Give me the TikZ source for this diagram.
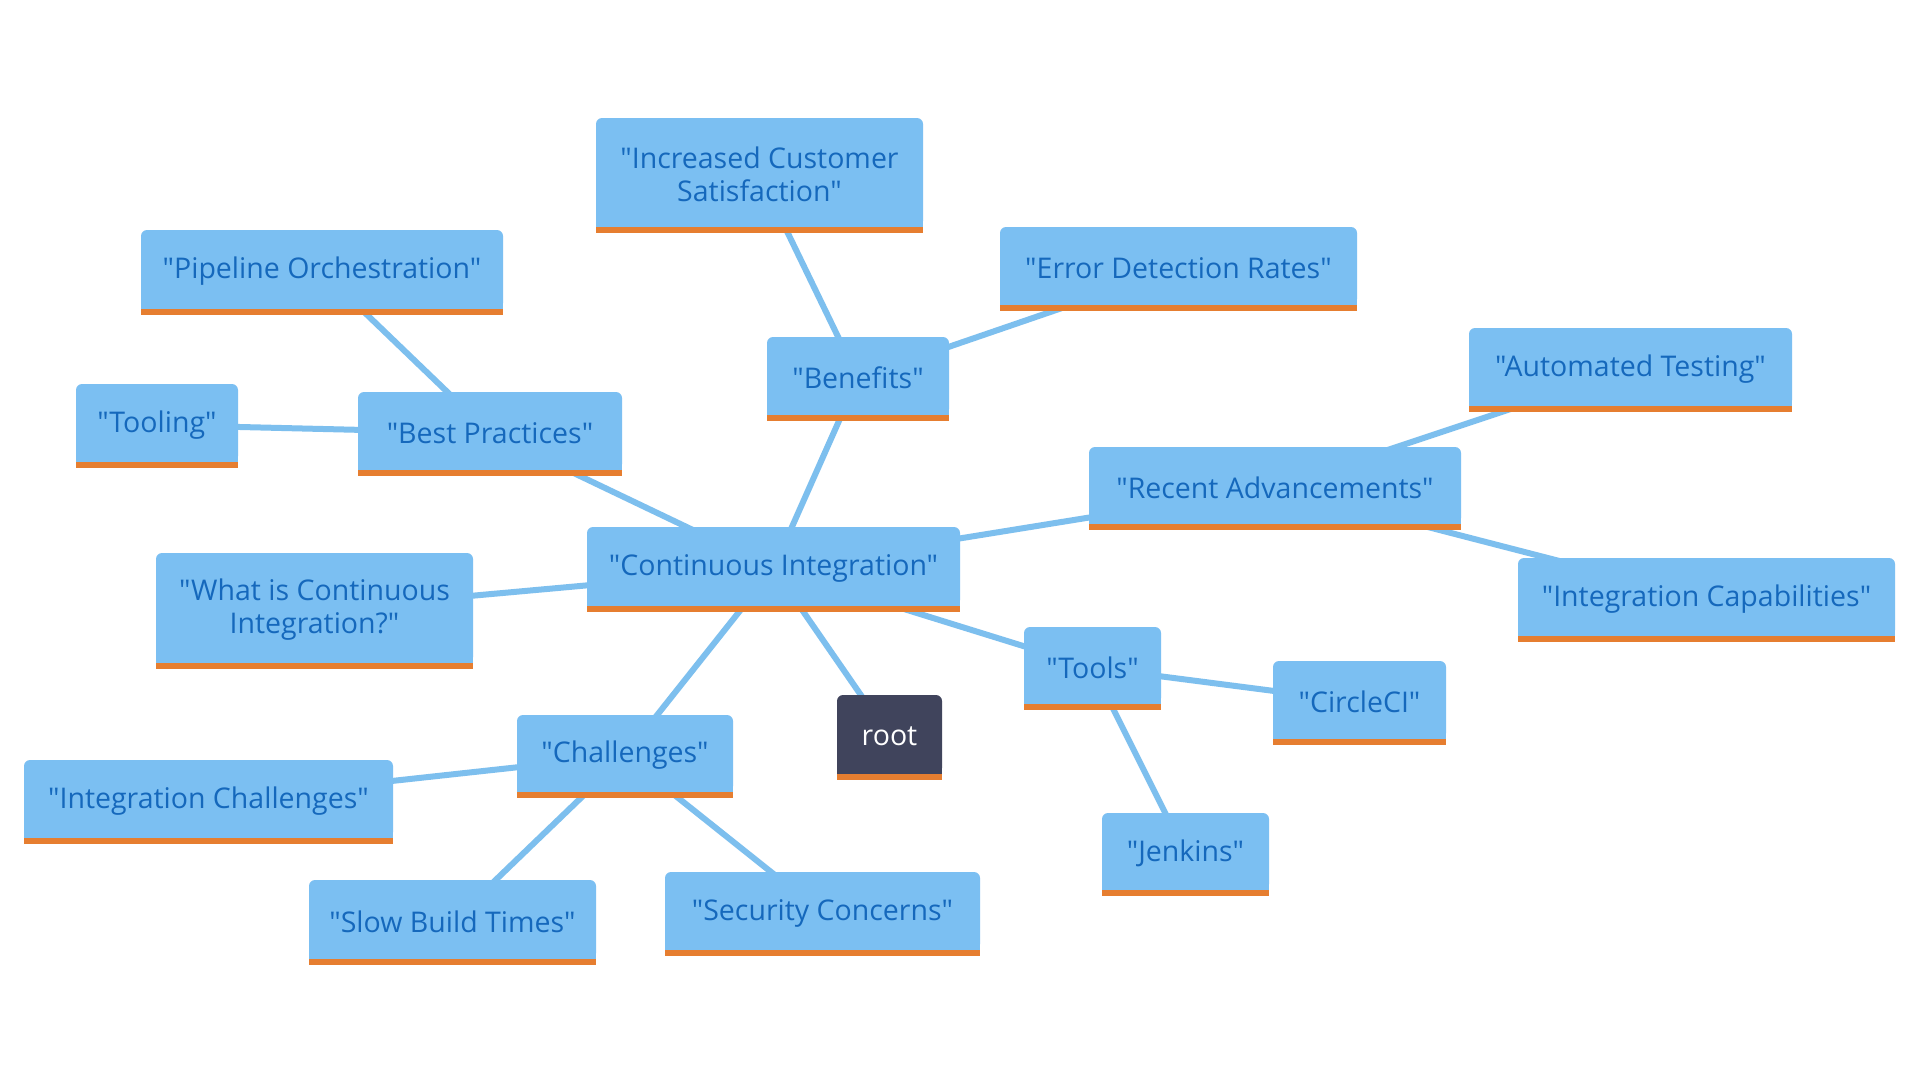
\documentclass[tikz,border=0pt]{standalone}
\usepackage{fontspec}
\setmainfont{Open Sans}[Ligatures=TeXOff]
\usetikzlibrary{backgrounds}
\definecolor{boxblue}{HTML}{7BBFF2}
\definecolor{lineblue}{HTML}{7DBFEE}
\definecolor{txtblue}{HTML}{1568BC}
\definecolor{barorange}{HTML}{E67E30}
\definecolor{rootfill}{HTML}{40445C}
\tikzset{
  boxtext/.style={inner sep=0pt, align=center, font=\fontsize{28.5}{33}\selectfont, text=txtblue},
  edge/.style={draw=lineblue, line width=6pt},
}
% name, cx, cy, w, blue height, text
\newcommand\mmbox[6]{%
  \fill[boxblue, rounded corners=6pt] ({#2-#4/2},{#3-#5/2}) rectangle ({#2+#4/2},{#3+#5/2});
  \fill[boxblue] ({#2-#4/2},{#3}) rectangle ({#2+#4/2},{#3+#5/2});
  \fill[barorange] ({#2-#4/2},{#3+#5/2}) rectangle ({#2+#4/2},{#3+#5/2+6});
  \node[boxtext, minimum width=#4pt, minimum height=#5pt] (#1) at (#2,#3+2) {#6};
}
\begin{document}
\begin{tikzpicture}[x=1pt,y=-1pt]
\useasboundingbox (0,0) rectangle (1920,1080);

\mmbox{ics}{759.5}{172.5}{327}{109}{"Increased Customer\\Satisfaction"}
\mmbox{edr}{1178.5}{266}{357}{78}{"Error Detection Rates"}
\mmbox{po}{322}{269.5}{362}{79}{"Pipeline Orchestration"}
\mmbox{ben}{858}{376}{182}{78}{"Benefits"}
\mmbox{tool}{157}{423}{162}{78}{"Tooling"}
\mmbox{bp}{490}{431}{264}{78}{"Best Practices"}
\mmbox{at}{1630.5}{367}{323}{78}{"Automated Testing"}
\mmbox{ra}{1275}{485.5}{372}{77}{"Recent Advancements"}
\mmbox{ci}{773.5}{566.5}{373}{79}{"Continuous Integration"}
\mmbox{wci}{314.5}{608}{317}{110}{"What is Continuous\\Integration?"}
\mmbox{ic}{1706.5}{597}{377}{78}{"Integration Capabilities"}
\mmbox{tools}{1092.5}{665.5}{137}{77}{"Tools"}
\mmbox{cci}{1359.5}{700}{173}{78}{"CircleCI"}
\mmbox{ch}{625}{753.5}{216}{77}{"Challenges"}
\mmbox{intch}{208.5}{799}{369}{78}{"Integration Challenges"}
\mmbox{jen}{1185.5}{851.5}{167}{77}{"Jenkins"}
\mmbox{sbt}{452.5}{919.5}{287}{79}{"Slow Build Times"}
\mmbox{sc}{822.5}{911}{315}{78}{"Security Concerns"}

% root
\fill[rootfill, rounded corners=6pt] (837,695) rectangle (942,774);
\fill[rootfill] (837,734.5) rectangle (942,774);
\fill[barorange] (837,774) rectangle (942,780);
\node[boxtext, text=white, minimum width=105pt, minimum height=79pt] (root) at (889.5,736.5) {root};

\begin{scope}[on background layer]
\fill[white] (0,0) rectangle (1920,1080);
\draw[edge] (ci.center) -- (ben.center);
\draw[edge] (ci.center) -- (bp.center);
\draw[edge] (ci.center) -- (ra.center);
\draw[edge] (ci.center) -- (wci.center);
\draw[edge] (ci.center) -- (tools.center);
\draw[edge] (ci.center) -- (ch.center);
\draw[edge] (ci.center) -- (root.center);
\draw[edge] (ben.center) -- (ics.center);
\draw[edge] (ben.center) -- (edr.center);
\draw[edge] (bp.center) -- (po.center);
\draw[edge] (bp.center) -- (tool.center);
\draw[edge] (ra.center) -- (at.center);
\draw[edge] (ra.center) -- (ic.center);
\draw[edge] (tools.center) -- (cci.center);
\draw[edge] (tools.center) -- (jen.center);
\draw[edge] (ch.center) -- (intch.center);
\draw[edge] (ch.center) -- (sbt.center);
\draw[edge] (ch.center) -- (sc.center);
\end{scope}
\end{tikzpicture}
\end{document}
